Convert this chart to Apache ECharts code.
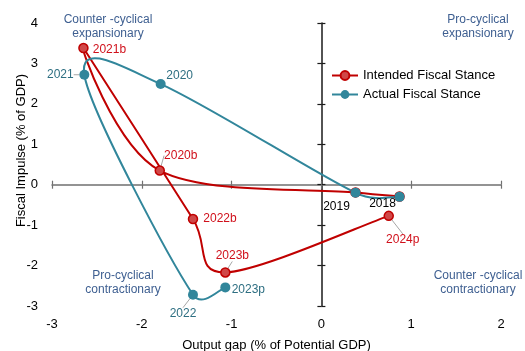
<!DOCTYPE html>
<html>
<head>
<meta charset="utf-8">
<script src="https://cdn.jsdelivr.net/npm/echarts@6/dist/echarts.min.js"></script>
<style>
  html, body { margin: 0; padding: 0; background: #fff; }
  #main { width: 525px; height: 351px; }
</style>
</head>
<body>
<div id="main"></div>
<script>
// intended fiscal stance (budget plans)
var intendedNames = ["2018b", "2019b", "2020b", "2021b", "2022b", "2023b", "2024p"];
var intendedGap = [0.87, 0.38, -1.80, -2.65, -1.43, -1.07, 0.75];
var intendedImpulse = [-0.29, -0.19, 0.35, 3.38, -0.85, -2.17, -0.77];

// actual fiscal stance
var actualNames = ["2018", "2019", "2020", "2021", "2022", "2023p"];
var actualGap = [0.87, 0.38, -1.79, -2.64, -1.43, -1.07];
var actualImpulse = [-0.30, -0.20, 2.49, 2.72, -2.72, -2.54];

// axis ranges
var gapRange = [-3, 2];
var impulseRange = [-3, 4];

var font = "Arial, 'Liberation Sans', sans-serif";
var red = "#c00000";
var teal = "#31869b";

// label offsets from the point (styling only)
var intendedOffsets = [null, null, [21, -15], [26, 2], [27, 0], [7, -17], [14, 24]];
var actualOffsets = [[-17, 7], [-19, 14], [19, -8], [-24, 0], [-10, 19], [23, 2]];
var leaders = { "2020b": 1, "2023b": 1, "2024p": 1, "2021": 1, "2022": 1 };

function buildData(xs, ys, names, offsets) {
  return xs.map(function (x, i) {
    var item = { name: names[i], value: [x, ys[i]] };
    if (!offsets[i]) {
      item.label = { show: false };
    } else if (names[i] === "2018" || names[i] === "2019") {
      item.label = { color: "#000" };
    }
    if (leaders[names[i]]) {
      item.labelLine = { show: true };
    }
    return item;
  });
}

function offsetLayout(offsets) {
  return function (params) {
    var o = offsets[params.dataIndex] || [0, 0];
    return { dx: o[0], dy: o[1] };
  };
}

function dist(a, b) {
  return Math.sqrt((a[0] - b[0]) * (a[0] - b[0]) + (a[1] - b[1]) * (a[1] - b[1]));
}

// spreadsheet-style smoothed line: bezier with tangent (next - prev) / 6,
// capped at half of the segment length
function ctrl(p, t, segLen, sign) {
  var len = Math.sqrt(t[0] * t[0] + t[1] * t[1]);
  if (len === 0) return p;
  var f = Math.min(1 / 6, 0.5 * segLen / len);
  return [p[0] + sign * t[0] * f, p[1] + sign * t[1] * f];
}

function splinePath(pts) {
  var d = "M" + pts[0][0] + " " + pts[0][1];
  for (var i = 0; i < pts.length - 1; i++) {
    var p0 = pts[i - 1] || pts[i];
    var p1 = pts[i];
    var p2 = pts[i + 1];
    var p3 = pts[i + 2] || p2;
    var seg = dist(p1, p2);
    var c1 = ctrl(p1, [p2[0] - p0[0], p2[1] - p0[1]], seg, 1);
    var c2 = ctrl(p2, [p3[0] - p1[0], p3[1] - p1[1]], seg, -1);
    d += " C" + c1[0] + " " + c1[1] + " " + c2[0] + " " + c2[1] + " " + p2[0] + " " + p2[1];
  }
  return d;
}

function curveSeries(xs, ys, color) {
  return {
    type: "custom",
    silent: true,
    data: xs.map(function (x, i) { return [x, ys[i]]; }),
    renderItem: function (params, api) {
      if (params.dataIndex !== 0) return;
      var pts = xs.map(function (x, i) { return api.coord([x, ys[i]]); });
      return {
        type: "path",
        shape: { pathData: splinePath(pts) },
        style: { fill: "none", stroke: color, lineWidth: 2 }
      };
    }
  };
}

function zeroAxis(dim, inside, showLine, color) {
  var range = dim === "x" ? gapRange : impulseRange;
  return {
    type: "value",
    min: range[0], max: range[1], interval: 1,
    position: dim === "x" ? "bottom" : "left",
    offset: dim === "x" ? -283 * 3 / 7 : -449 * 3 / 5,
    axisLine: { show: showLine, onZero: false, lineStyle: { color: color, width: 1.5 } },
    axisTick: { show: true, inside: inside, length: 4, lineStyle: { color: color, width: 1.2 } },
    axisLabel: { show: false },
    splitLine: { show: false }
  };
}

var myChart = echarts.init(document.getElementById("main"));

var option = {
  animation: false,
  grid: { left: 52, right: 24, top: 23, bottom: 45, outerBoundsMode: "none" },
  legend: {
    orient: "vertical",
    left: 326,
    top: 64,
    itemWidth: 26,
    itemHeight: 11,
    itemGap: 6,
    lineStyle: { opacity: 1, width: 2 },
    textStyle: { fontSize: 13, color: "#000", fontFamily: font },
    data: ["Intended Fiscal Stance", "Actual Fiscal Stance"]
  },
  xAxis: [
    {
      type: "value",
      min: gapRange[0], max: gapRange[1], interval: 1,
      position: "bottom",
      axisLine: { show: false, onZero: false },
      axisTick: { show: false },
      splitLine: { show: false },
      axisLabel: { fontSize: 13, color: "#000", margin: 12, fontFamily: font },
      name: "Output gap (% of Potential GDP)",
      nameLocation: "middle",
      nameGap: 33,
      nameMoveOverlap: false,
      nameTextStyle: { fontSize: 13, color: "#000", fontFamily: font }
    },
    zeroAxis("x", true, true, "#707070"),
    zeroAxis("x", false, false, "#707070")
  ],
  yAxis: [
    {
      type: "value",
      min: impulseRange[0], max: impulseRange[1], interval: 1,
      position: "left",
      axisLine: { show: false, onZero: false },
      axisTick: { show: false },
      splitLine: { show: false },
      axisLabel: { fontSize: 13, color: "#000", margin: 14, fontFamily: font },
      name: "Fiscal Impulse (% of GDP)",
      nameLocation: "middle",
      nameGap: 24,
      nameMoveOverlap: false,
      nameTextStyle: { fontSize: 13, color: "#000", fontFamily: font, padding: [0, 0, 0, 28] }
    },
    zeroAxis("y", true, true, "#1a1a1a"),
    zeroAxis("y", false, false, "#1a1a1a")
  ],
  graphic: [
    { type: "text", x: 108, y: 13, style: { text: "Counter -cyclical\nexpansionary", align: "center", fill: "#3e5f91", font: "12px " + font, lineHeight: 14 } },
    { type: "text", x: 478, y: 13, style: { text: "Pro-cyclical\nexpansionary", align: "center", fill: "#3e5f91", font: "12px " + font, lineHeight: 14 } },
    { type: "text", x: 123, y: 269, style: { text: "Pro-cyclical\ncontractionary", align: "center", fill: "#3e5f91", font: "12px " + font, lineHeight: 14 } },
    { type: "text", x: 478, y: 269, style: { text: "Counter -cyclical\ncontractionary", align: "center", fill: "#3e5f91", font: "12px " + font, lineHeight: 14 } }
  ],
  series: [
    curveSeries(intendedGap, intendedImpulse, red),
    curveSeries(actualGap, actualImpulse, teal),
    {
      name: "Intended Fiscal Stance",
      type: "line",
      symbol: "circle",
      symbolSize: 9,
      lineStyle: { color: red, width: 2, opacity: 0 },
      itemStyle: { color: "#d04848", borderColor: red, borderWidth: 1.5 },
      label: { show: true, position: "inside", formatter: "{b}", fontSize: 12, color: "#d0101b", fontFamily: font },
      labelLine: { show: false, lineStyle: { color: "#a6a6a6", width: 1 } },
      labelLayout: offsetLayout(intendedOffsets),
      data: buildData(intendedGap, intendedImpulse, intendedNames, intendedOffsets)
    },
    {
      name: "Actual Fiscal Stance",
      type: "line",
      symbol: "circle",
      symbolSize: 10,
      lineStyle: { color: teal, width: 2, opacity: 0 },
      itemStyle: { color: teal },
      label: { show: true, position: "inside", formatter: "{b}", fontSize: 12, color: "#2e6f82", fontFamily: font },
      labelLine: { show: false, lineStyle: { color: "#a6a6a6", width: 1 } },
      labelLayout: offsetLayout(actualOffsets),
      data: buildData(actualGap, actualImpulse, actualNames, actualOffsets)
    }
  ]
};

myChart.setOption(option);
</script>
</body>
</html>
